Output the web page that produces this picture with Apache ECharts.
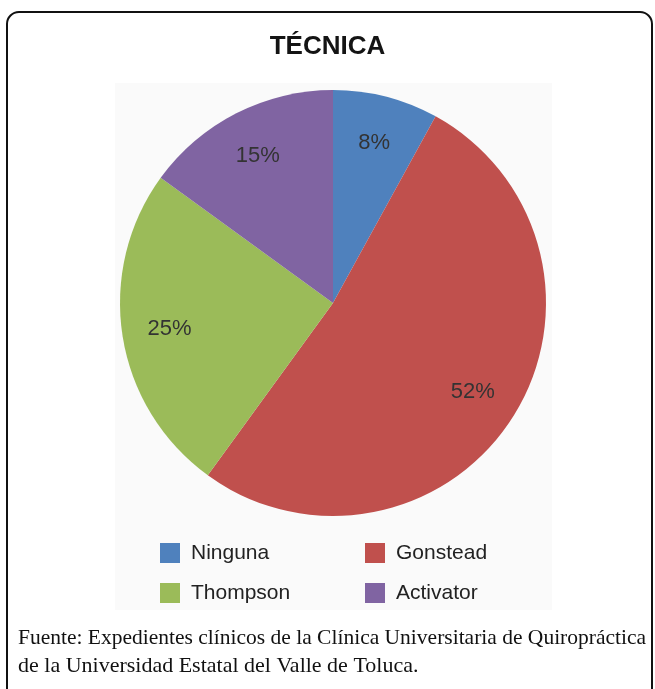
<!DOCTYPE html>
<html>
<head>
<meta charset="utf-8">
<script src="https://cdn.jsdelivr.net/npm/echarts@6/dist/echarts.min.js"></script>
<style>
  html, body { margin: 0; padding: 0; background: #fff; }
  #chart { width: 655px; height: 689px; }
</style>
</head>
<body>
<div id="chart"></div>
<script>
// datos
const categorias = ['Ninguna', 'Gonstead', 'Thompson', 'Activator']
const porcentajes = [8, 52, 25, 15]
const colores = ['#4F81BD', '#C0504D', '#9BBB59', '#8064A2']

const titulo = 'TÉCNICA'
const fuente1 = 'Fuente: Expedientes clínicos de la Clínica Universitaria de Quiropráctica'
const fuente2 = 'de la Universidad Estatal del Valle de Toluca.'

const datos = categorias.map((n, i) => ({ name: n, value: porcentajes[i] }))

const myChart = echarts.init(document.getElementById('chart'))

const option = {
  backgroundColor: '#fff',
  color: colores,
  animation: false,
  title: {
    text: titulo,
    left: 'center',
    top: 29,
    textStyle: { fontFamily: 'Liberation Sans', fontWeight: 'bold', fontSize: 26, color: '#141414' },
  },
  legend: {
    data: categorias,
    left: 160,
    top: 542,
    padding: 0,
    width: 400,
    icon: 'rect',
    itemWidth: 20,
    itemHeight: 20,
    itemGap: 18,
    textStyle: {
      fontFamily: 'Liberation Sans',
      fontSize: 21,
      color: '#222',
      width: 156,
      lineHeight: 22,
      padding: [0, 0, 0, 6],
    },
  },
  graphic: [
    // marco redondeado
    {
      type: 'rect',
      shape: { x: 7, y: 12, width: 645, height: 700, r: 12 },
      style: { fill: 'none', stroke: '#111', lineWidth: 2 },
      z: 10,
    },
    // fondo gris claro de la imagen del gráfico
    {
      type: 'rect',
      shape: { x: 115, y: 83, width: 437, height: 527 },
      style: { fill: '#fafafa' },
      z: -1,
    },
    {
      type: 'text',
      left: 18,
      top: 627,
      style: { text: fuente1, font: '21.5px "Liberation Serif"', fill: '#111' },
    },
    {
      type: 'text',
      left: 18,
      top: 655,
      style: { text: fuente2, font: '22px "Liberation Serif"', fill: '#111' },
    },
  ],
  series: [
    {
      name: 'Técnica',
      type: 'pie',
      center: [333, 303],
      radius: 213,
      startAngle: 90,
      clockwise: true,
      label: { show: false },
      labelLine: { show: false },
      itemStyle: { borderWidth: 0 },
      emphasis: { scale: false },
      data: datos,
    },
    {
      // serie auxiliar solo para colocar las etiquetas hacia el borde
      name: 'etiquetas',
      type: 'pie',
      center: [333, 303],
      radius: [112, 213],
      startAngle: 90,
      clockwise: true,
      silent: true,
      percentPrecision: 0,
      itemStyle: { color: 'rgba(0,0,0,0)', borderWidth: 0 },
      label: {
        show: true,
        position: 'inside',
        formatter: '{d}%',
        fontFamily: 'Liberation Sans',
        fontSize: 22,
        color: '#333',
      },
      labelLine: { show: false },
      data: datos,
    },
  ],
}

myChart.setOption(option, true)
</script>
</body>
</html>
